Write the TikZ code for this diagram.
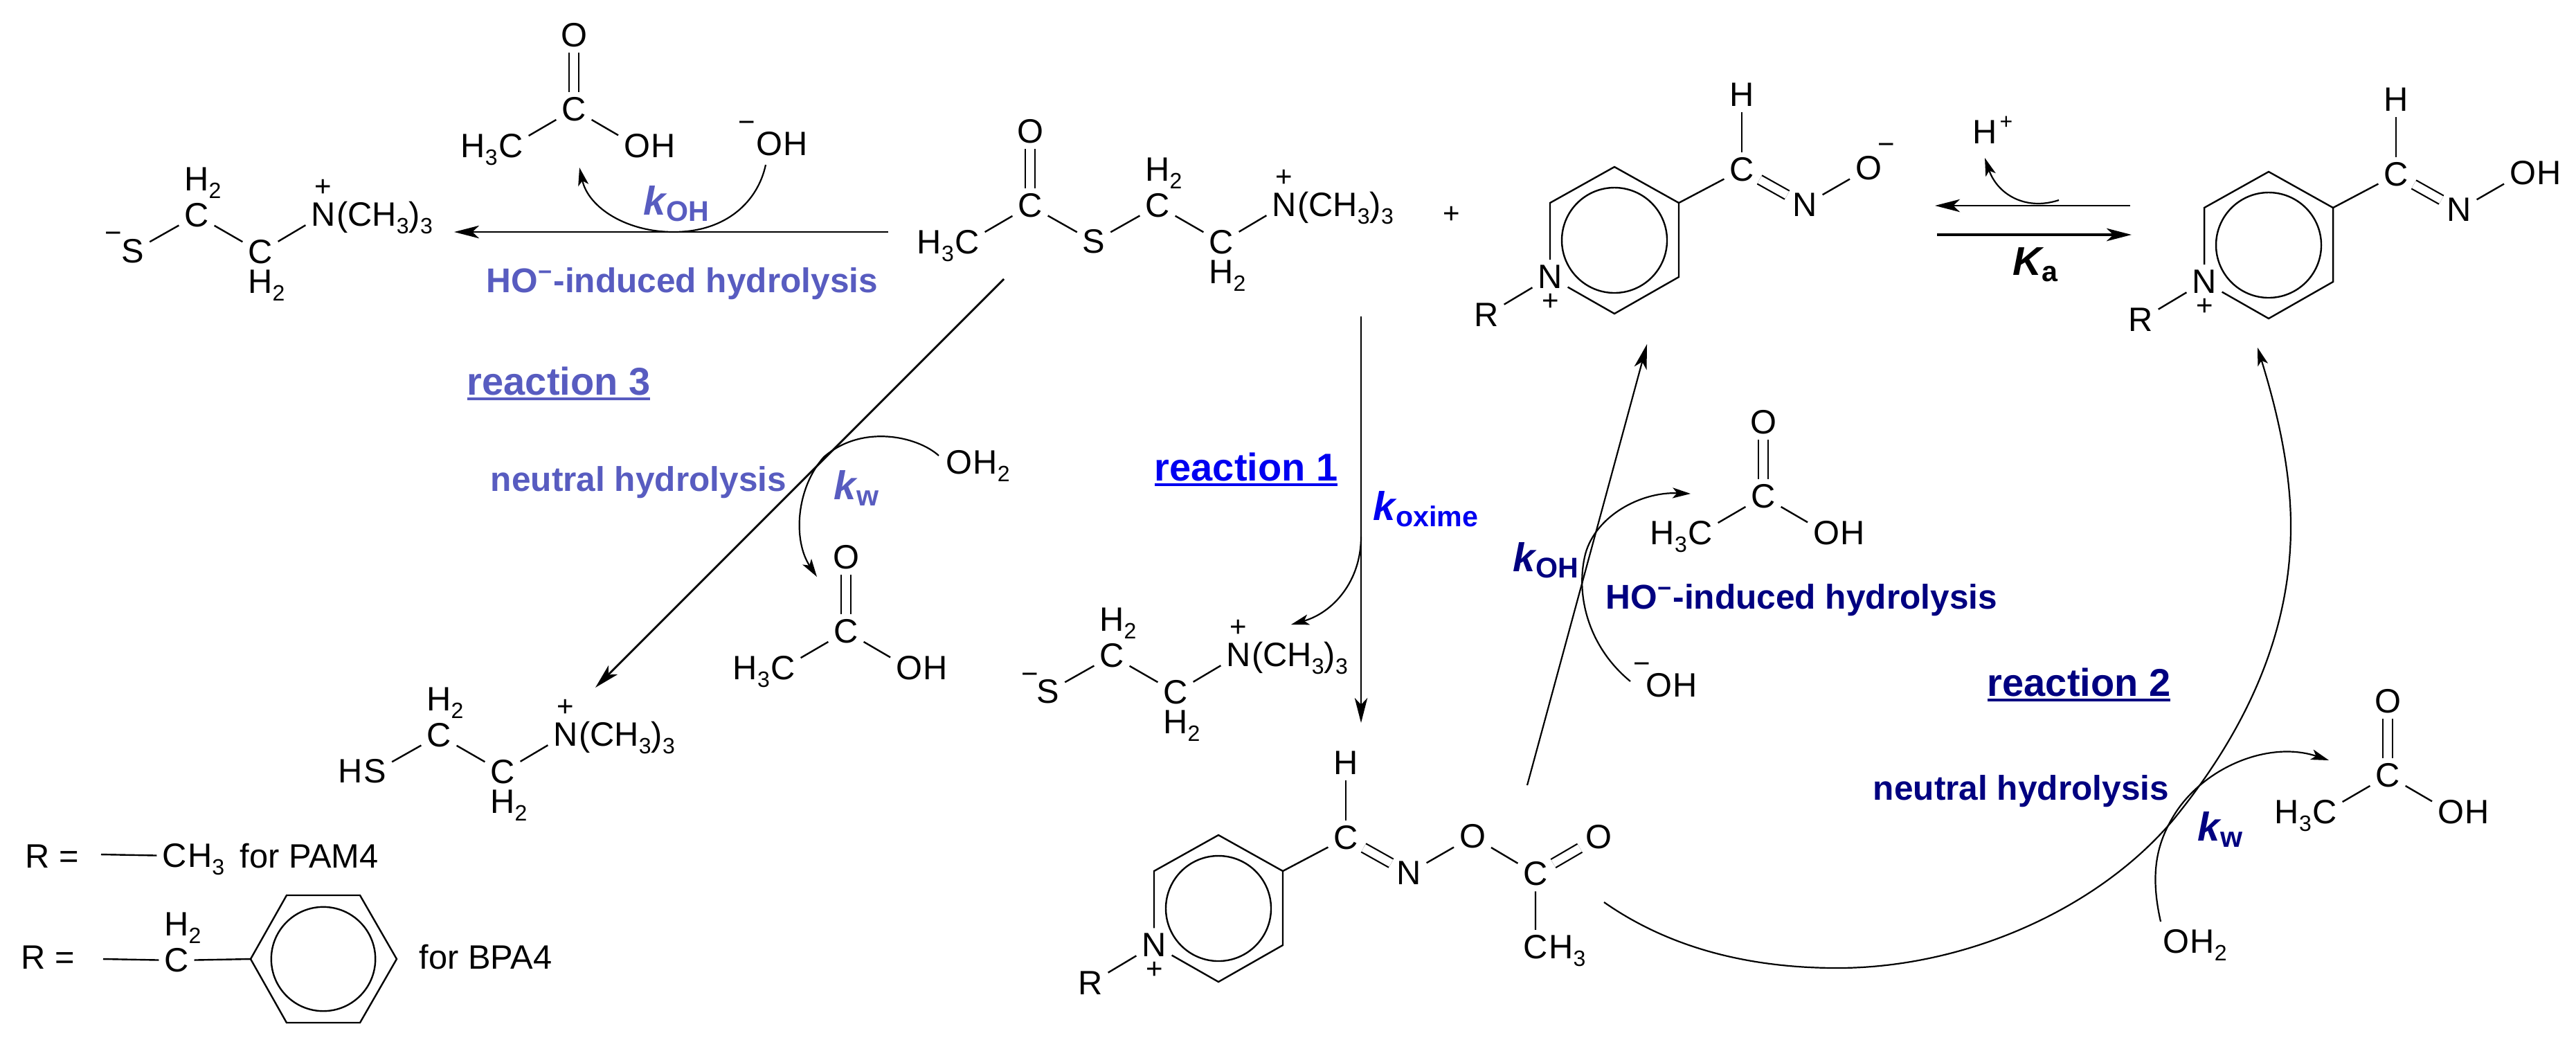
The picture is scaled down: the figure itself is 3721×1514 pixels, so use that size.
\documentclass[tikz,border=0pt]{standalone}
\usepackage{fontspec}
\setmainfont{Liberation Sans}
\usetikzlibrary{positioning,arrows.meta}
\definecolor{reactionOne}{RGB}{0,0,240}
\definecolor{reactionTwo}{RGB}{0,0,128}
\definecolor{reactionThree}{RGB}{88,92,192}
\tikzstyle{scheme} = [x = .25pt, y = -.25pt]
\tikzstyle{atomStyle} = [font=\fontsize{12.2}{14}\selectfont, inner sep = 1.8pt]
\tikzstyle{leftPart} = [atomStyle, anchor=base east, inner sep = 0pt, xshift = 1.8pt]
\tikzstyle{rightPart} = [atomStyle, anchor=base west, inner sep = 0pt, xshift = -1.8pt]
\tikzstyle{chargeStyle} = [font=\fontsize{10.5}{12}\selectfont, inner sep = 0pt]
\tikzstyle{textStyle} = [atomStyle, anchor=base west, inner sep = 0pt]
\tikzstyle{hydrolysisText} = [font=\fontsize{12.4}{14}\selectfont\bfseries, anchor=base west, inner sep = 0pt]
\tikzstyle{reactionText} = [font=\fontsize{14}{16}\selectfont\bfseries, anchor=base west, inner sep = 0pt]
\tikzstyle{rateText} = [anchor=base west, inner sep = 0pt]
\tikzstyle{bondLine} = [line width = .6pt]
\tikzstyle{doubleBond} = [line width = .55pt, double, double distance = 2.9pt]
\tikzstyle{reactionArrow} = [line width = .7pt, -{Stealth[length=9pt, width=4.6pt, inset=2.4pt]}]
\tikzstyle{curvedArrow} = [line width = .55pt, -{Stealth[length=6.5pt, width=3.8pt, inset=1.6pt]}]
\newcommand{\subText}[1]{\rlap{\smash{\raisebox{-2.7pt}{\fontsize{8}{9}\selectfont #1}}}}
\newcommand{\inlineSub}[1]{\raisebox{-2.7pt}{\fontsize{8}{9}\selectfont #1}}
\newcommand{\rateConstant}[2]{{\fontsize{14.5}{16}\selectfont\bfseries\itshape #1}\raisebox{-2.4pt}{\fontsize{10.3}{11}\selectfont\bfseries #2}}
\newlength{\underWidth}
\newcommand{\underLabel}[1]{\settowidth{\underWidth}{#1}#1\llap{\rule[-1.9pt]{\underWidth}{.8pt}}}
\newcommand{\aceticAcid}[3]{
  \node [atomStyle] (#1C) at (#2,#3) {C};
  \node [atomStyle] (#1O) at (#2,#3-107) {O};
  \node [atomStyle] (#1Me) at (#2-91,#3+53) {C};
  \node [atomStyle] (#1Oh) at (#2+91,#3+53) {O};
  \node [leftPart] (#1MeH) at (#1Me.base west) {H\inlineSub{3}};
  \node [rightPart] (#1OhH) at (#1Oh.base east) {H};
  \draw [doubleBond] (#1C) -- (#1O);
  \draw [bondLine] (#1Me) -- (#1C) -- (#1Oh);
}
\newcommand{\cholineChain}[3]{
  \node [atomStyle] (#1S) at (#2-92,#3+52) {S};
  \node [atomStyle] (#1Ca) at (#2,#3) {C};
  \node [atomStyle] (#1Cb) at (#2+92,#3+53) {C};
  \node [atomStyle] (#1N) at (#2+183,#3-1) {N};
  \node [atomStyle, above = .6pt of #1Ca] (#1Ha) {H\subText{2}};
  \node [atomStyle, below = -1.8pt of #1Cb] (#1Hb) {H\subText{2}};
  \node [chargeStyle] (#1Plus) at (#2+183,#3-40) {+};
  \node [rightPart] (#1Me) at (#1N.base east) {(CH\inlineSub{3})\inlineSub{3}};
  \draw [bondLine] (#1S) -- (#1Ca) -- (#1Cb) -- (#1N);
}
\newcommand{\pyridinium}[3]{
  \coordinate (#1T) at (#2,#3);
  \coordinate (#1UR) at (#2+93,#3+52);
  \coordinate (#1LR) at (#2+93,#3+159);
  \coordinate (#1B) at (#2,#3+212);
  \coordinate (#1UL) at (#2-93,#3+52);
  \coordinate (#1Mid) at (#2,#3+106);
  \node [atomStyle] (#1N) at (#2-93,#3+159) {N};
  \node [atomStyle] (#1R) at (#2-185,#3+214) {R};
  \node [chargeStyle] (#1Plus) at (#2-92,#3+195) {+};
  \node [atomStyle] (#1Cx) at (#2+184,#3+4) {C};
  \node [atomStyle] (#1H) at (#2+184,#3-104) {H};
  \node [atomStyle] (#1Nx) at (#2+275,#3+55) {N};
  \node [atomStyle] (#1Ox) at (#2+367,#3+2) {O};
  \draw [bondLine] (#1N) -- (#1UL) -- (#1T) -- (#1UR) -- (#1LR) -- (#1B) -- (#1N);
  \draw [bondLine] (#1Mid) circle [radius = 19pt];
  \draw [bondLine] (#1R) -- (#1N);
  \draw [bondLine] (#1UR) -- (#1Cx);
  \draw [bondLine] (#1Cx) -- (#1H);
  \draw [doubleBond] (#1Cx) -- (#1Nx);
  \draw [bondLine] (#1Nx) -- (#1Ox);
}
\begin{document}
\begin{tikzpicture}[scheme]
  \useasboundingbox (0,0) rectangle (3721,1514);

  \cholineChain{thiolLeft}{284}{311}
  \node [chargeStyle] (thiolLeftMinus) at (164,343) {−};
  \aceticAcid{acidTop}{829}{158}
  \node [atomStyle] (hydroxideTop) at (1111,208) {O};
  \node [rightPart] (hydroxideTopH) at (hydroxideTop.base east) {H};
  \node [chargeStyle] (hydroxideTopMinus) at (1079,183) {−};

  \cholineChain{substrate}{1672}{297}
  \node [atomStyle] (substrateC) at (1488,297) {C};
  \node [atomStyle] (substrateO) at (1488,190) {O};
  \node [atomStyle] (substrateMe) at (1397,350) {C};
  \node [leftPart] (substrateMeH) at (substrateMe.base west) {H\inlineSub{3}};
  \draw [doubleBond] (substrateC) -- (substrateO);
  \draw [bondLine] (substrateMe) -- (substrateC) -- (substrateS);
  \node [chargeStyle] (plusSign) at (2097,310) {+};

  \pyridinium{oximate}{2332}{241}
  \node [chargeStyle] (oximateMinus) at (2725,215) {−};
  \pyridinium{oxime}{3277}{248}
  \node [rightPart] (oximeOxH) at (oximeOx.base east) {H};

  \node [atomStyle] (protonH) at (2867,191) {H};
  \node [chargeStyle, font=\fontsize{8}{9}\selectfont] (protonPlus) at (2898,177) {+};

  \aceticAcid{acidThree}{1222}{912}
  \node [atomStyle] (waterThree) at (1385,668) {O};
  \node [rightPart] (waterThreeH) at (waterThree.base east) {H\inlineSub{2}};
  \cholineChain{thiol}{634}{1062}
  \node [leftPart] (thiolH) at (thiolS.base west) {H};

  \cholineChain{thiolLow}{1606}{947}
  \node [chargeStyle] (thiolLowMinus) at (1488,980) {−};

  \pyridinium{ester}{1760}{1206}
  \node [atomStyle] (esterC) at (2218,1262) {C};
  \node [atomStyle] (esterO) at (2309,1209) {O};
  \node [atomStyle] (esterMe) at (2218,1368) {C};
  \node [rightPart] (esterMeH) at (esterMe.base east) {H\inlineSub{3}};
  \draw [bondLine] (esterOx) -- (esterC) -- (esterMe);
  \draw [doubleBond] (esterC) -- (esterO);

  \aceticAcid{acidOne}{2547}{717}
  \node [atomStyle] (hydroxideOne) at (2396,990) {O};
  \node [rightPart] (hydroxideOneH) at (hydroxideOne.base east) {H};
  \node [chargeStyle] (hydroxideOneMinus) at (2372,965) {−};

  \aceticAcid{acidTwo}{3449}{1120}
  \node [atomStyle] (waterTwo) at (3143,1360) {O};
  \node [rightPart] (waterTwoH) at (waterTwo.base east) {H\inlineSub{2}};

  \coordinate (hydrolysisStart) at (1283,335);
  \coordinate (hydrolysisEnd) at (656,335);
  \draw [reactionArrow] (hydrolysisStart) -- (hydrolysisEnd);
  \coordinate (hydroxideTopStart) at (1106,238);
  \coordinate (hydroxideTopMid) at (973,335);
  \coordinate (hydroxideTopEnd) at (837,242);
  \draw [curvedArrow] (hydroxideTopStart) .. controls (1095,290) and (1050,335) .. (hydroxideTopMid) .. controls (905,335) and (850,300) .. (hydroxideTopEnd);

  \coordinate (neutralStart) at (1450,403);
  \coordinate (neutralEnd) at (860,993);
  \draw [reactionArrow] (neutralStart) -- (neutralEnd);
  \coordinate (waterThreeStart) at (1356,658);
  \coordinate (waterThreeMid) at (1190,660);
  \coordinate (waterThreeEnd) at (1180,833);
  \draw [curvedArrow] (waterThreeStart) .. controls (1325,630) and (1245,612) .. (waterThreeMid) .. controls (1150,705) and (1145,780) .. (waterThreeEnd);

  \coordinate (oximeStart) at (1966,457);
  \coordinate (oximeEnd) at (1966,1044);
  \draw [reactionArrow, line width = .55pt] (oximeStart) -- (oximeEnd);
  \coordinate (leavingStart) at (1966,775);
  \coordinate (leavingEnd) at (1865,902);
  \draw [curvedArrow] (leavingStart) .. controls (1966,840) and (1925,885) .. (leavingEnd);

  \coordinate (esterStart) at (2206,1134);
  \coordinate (esterEnd) at (2379,497);
  \draw [reactionArrow, line width = .55pt] (esterStart) -- (esterEnd);
  \coordinate (hydroxideOneStart) at (2355,984);
  \coordinate (hydroxideOneMid) at (2290,800);
  \coordinate (hydroxideOneEnd) at (2442,713);
  \draw [curvedArrow] (hydroxideOneStart) .. controls (2295,935) and (2275,860) .. (hydroxideOneMid) .. controls (2305,745) and (2370,710) .. (hydroxideOneEnd);

  \coordinate (arcStart) at (2317,1303);
  \coordinate (arcLow) at (2654,1398);
  \coordinate (arcCross) at (3140,1183);
  \coordinate (arcSide) at (3309,760);
  \coordinate (arcEnd) at (3261,502);
  \draw [curvedArrow] (arcStart) .. controls (2420,1375) and (2540,1398) .. (arcLow) .. controls (2840,1398) and (3032,1312) .. (arcCross) .. controls (3240,1060) and (3309,920) .. (arcSide) .. controls (3309,670) and (3285,580) .. (arcEnd);
  \coordinate (waterTwoStart) at (3121,1331);
  \coordinate (waterTwoMid) at (3145,1170);
  \coordinate (waterTwoEnd) at (3364,1098);
  \draw [curvedArrow] (waterTwoStart) .. controls (3105,1260) and (3115,1215) .. (waterTwoMid) .. controls (3190,1105) and (3280,1070) .. (waterTwoEnd);

  \coordinate (backStart) at (3077,297);
  \coordinate (backEnd) at (2795,297);
  \draw [reactionArrow] (backStart) -- (backEnd);
  \coordinate (forthStart) at (2798,339);
  \coordinate (forthEnd) at (3079,339);
  \draw [reactionArrow, line width = 1pt] (forthStart) -- (forthEnd);
  \coordinate (protonStart) at (2974,289);
  \coordinate (protonEnd) at (2867,228);
  \draw [curvedArrow] (protonStart) .. controls (2925,305) and (2885,280) .. (protonEnd);

  \node [rateText, color=reactionThree] (rateTop) at (929,310) {\rateConstant{k}{OH}};
  \node [hydrolysisText, color=reactionThree] (hydrolysisTop) at (702,422) {HO\textsuperscript{−}-induced hydrolysis};
  \node [reactionText, color=reactionThree] (reactionThreeLabel) at (674,570) {\underLabel{reaction 3}};
  \node [hydrolysisText, color=reactionThree] (neutralThree) at (708,709) {neutral hydrolysis};
  \node [rateText, color=reactionThree] (rateThree) at (1204,721) {\rateConstant{k}{w}};
  \node [reactionText, color=reactionOne] (reactionOneLabel) at (1667,694) {\underLabel{reaction 1}};
  \node [rateText, color=reactionOne] (rateOne) at (1983,751) {\rateConstant{k}{oxime}};
  \node [rateText, color=reactionTwo] (rateTwoOh) at (2185,825) {\rateConstant{k}{OH}};
  \node [hydrolysisText, color=reactionTwo] (hydrolysisTwo) at (2319,879) {HO\textsuperscript{−}-induced hydrolysis};
  \node [reactionText, color=reactionTwo] (reactionTwoLabel) at (2870,1005) {\underLabel{reaction 2}};
  \node [hydrolysisText, color=reactionTwo] (neutralTwo) at (2705,1155) {neutral hydrolysis};
  \node [rateText, color=reactionTwo] (rateTwoW) at (3174,1214) {\rateConstant{k}{w}};
  \node [rateText] (rateAcid) at (2907,397) {\rateConstant{K}{a}};

  \node [textStyle] (legendOneR) at (36,1253) {R =};
  \coordinate (legendOneBond) at (146,1234);
  \node [atomStyle] (legendOneC) at (252,1236) {C};
  \node [rightPart] (legendOneH) at (legendOneC.base east) {H\inlineSub{3}};
  \node [textStyle] (legendOneFor) at (346,1253) {for PAM4};
  \draw [bondLine] (legendOneBond) -- (legendOneC);

  \node [textStyle] (legendTwoR) at (30,1399) {R =};
  \coordinate (legendTwoBond) at (149,1385);
  \node [atomStyle] (legendTwoC) at (255,1387) {C};
  \node [atomStyle, above = .6pt of legendTwoC] (legendTwoH) {H\subText{2}};
  \coordinate (benzeneL) at (362,1385);
  \coordinate (benzeneUL) at (414,1293);
  \coordinate (benzeneUR) at (520,1293);
  \coordinate (benzeneR) at (573,1385);
  \coordinate (benzeneLR) at (520,1477);
  \coordinate (benzeneLL) at (414,1477);
  \coordinate (benzeneMid) at (467,1385);
  \draw [bondLine] (legendTwoBond) -- (legendTwoC) -- (benzeneL);
  \draw [bondLine] (benzeneL) -- (benzeneUL) -- (benzeneUR) -- (benzeneR) -- (benzeneLR) -- (benzeneLL) -- cycle;
  \draw [bondLine] (benzeneMid) circle [radius = 18.8pt];
  \node [textStyle] (legendTwoFor) at (605,1399) {for BPA4};
\end{tikzpicture}
\end{document}
